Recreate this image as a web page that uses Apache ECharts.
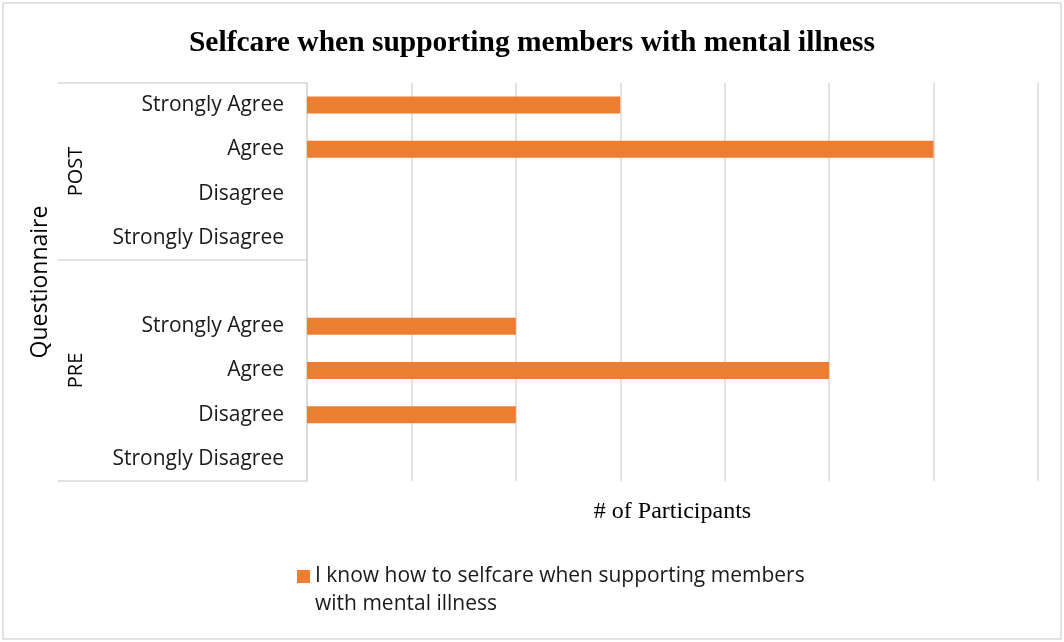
<!DOCTYPE html>
<html>
<head>
<meta charset="utf-8">
<script src="https://cdn.jsdelivr.net/npm/echarts@6/dist/echarts.min.js"></script>
<style>
  html, body { margin: 0; padding: 0; background: #fff; }
  #chart { width: 1064px; height: 642px; }
</style>
</head>
<body>
<div id="chart"></div>
<script>
// data
const groupNames = ["POST", "PRE"];
const responses = ["Strongly Agree", "Agree", "Disagree", "Strongly Disagree"];
const postCounts = [3, 6, 0, 0];
const preCounts = [2, 5, 2, 0];
const seriesName = "I know how to selfcare when supporting members with mental illness";
const maxCount = 7;

// PRE group has an empty row on top (as in the original sheet)
const categories = [...responses, "", ...responses];
const values = [...postCounts, null, ...preCounts];
const groupSizes = [postCounts.length, preCounts.length + 1];

// group borders and label centres along the category axis
const groupEdges = [0];
groupSizes.forEach((s) => groupEdges.push(groupEdges[groupEdges.length - 1] + s));
const groupCenters = groupSizes.map((s, i) => groupEdges[i] + s / 2);

const sans = "'Open Sans', 'Noto Sans', sans-serif";
const serif = "'Liberation Serif', 'DejaVu Serif', serif";
const grey = "#d9d9d9";

const chart = echarts.init(document.getElementById("chart"));
chart.setOption({
  animation: false,
  title: {
    text: "Selfcare when supporting members with mental illness",
    left: "center",
    top: 23,
    textStyle: { fontFamily: serif, fontWeight: "bold", fontSize: 29.5, color: "#000" },
  },
  graphic: [
    {
      type: "rect",
      shape: { x: 3, y: 3, width: 1058, height: 636 },
      style: { fill: "none", stroke: grey, lineWidth: 1.5 },
      silent: true,
    },
  ],
  grid: { left: 307, right: 26, top: 83, bottom: 161 },
  legend: {
    left: 292,
    top: 557,
    itemWidth: 13,
    itemHeight: 40,
    itemGap: 6,
    icon: "path://M0,0H13V13H0Z M0,40",
    textStyle: {
      fontFamily: sans,
      fontSize: 21,
      color: "#1a1a1a",
      lineHeight: 28,
      width: 500,
      overflow: "break",
    },
  },
  xAxis: {
    type: "value",
    min: 0,
    max: maxCount,
    interval: 1,
    axisLine: { show: false },
    axisTick: { show: false },
    axisLabel: { show: false },
    splitLine: { show: true, lineStyle: { color: grey, width: 1.5 } },
    name: "# of Participants",
    nameLocation: "middle",
    nameGap: 19,
    nameTextStyle: { fontFamily: serif, fontSize: 24, color: "#000" },
  },
  yAxis: [
    {
      type: "category",
      data: categories,
      inverse: true,
      axisLine: { show: false },
      axisTick: { show: false },
      axisLabel: { fontFamily: sans, fontSize: 21, color: "#1a1a1a", margin: 23 },
      name: "Questionnaire",
      nameLocation: "middle",
      nameRotate: 90,
      nameGap: 255,
      nameTextStyle: { fontFamily: sans, fontSize: 23, color: "#000" },
    },
    {
      type: "value",
      position: "left",
      inverse: true,
      min: 0,
      max: groupEdges[groupEdges.length - 1],
      splitLine: { show: false },
      axisLine: { show: true, lineStyle: { color: grey, width: 1.5 } },
      axisTick: {
        show: true,
        length: 249,
        customValues: groupEdges,
        lineStyle: { color: grey, width: 1.5 },
      },
      axisLabel: {
        customValues: groupCenters,
        formatter: (v) => groupNames[groupCenters.indexOf(v)] || "",
        rotate: 90,
        margin: 221,
        fontFamily: sans,
        fontSize: 20,
        color: "#000",
      },
    },
  ],
  series: [
    {
      name: seriesName,
      type: "bar",
      yAxisIndex: 0,
      data: values,
      barWidth: 17,
      itemStyle: { color: "#ed7d31" },
    },
  ],
});
</script>
</body>
</html>
